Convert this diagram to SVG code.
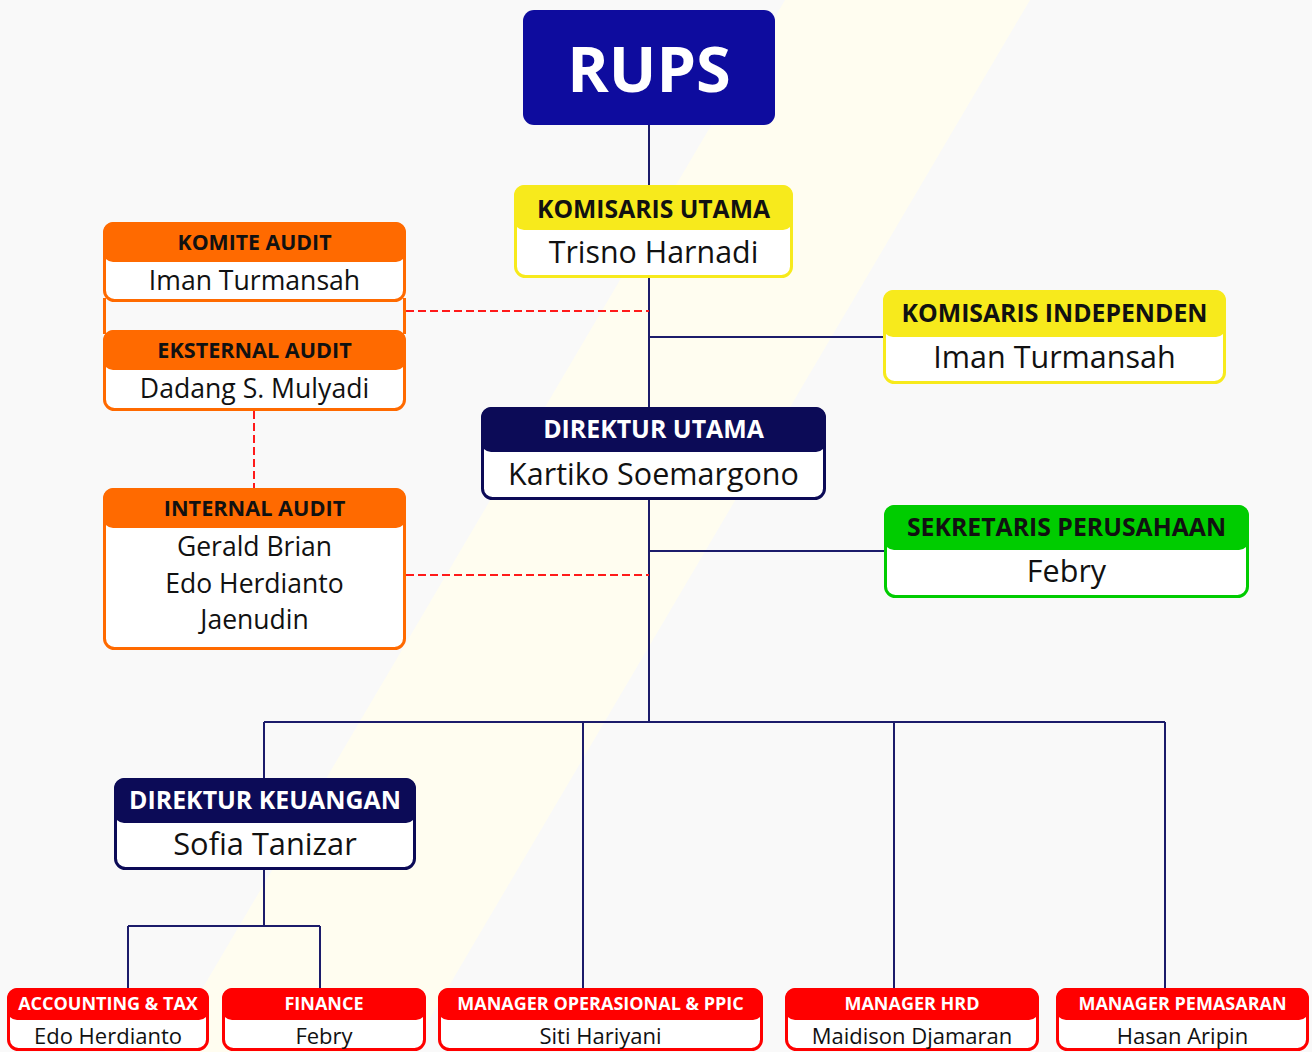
<svg xmlns="http://www.w3.org/2000/svg" width="1312" height="1052" viewBox="0 0 1312 1052">
<style>
.hd{font-family:"Open Sans","Liberation Sans",sans-serif;font-weight:700;text-anchor:middle}
.nm{font-family:"Open Sans","Liberation Sans",sans-serif;font-weight:400;text-anchor:middle;fill:#111}
.box{fill:#ffffff;stroke-width:3}
.ln{stroke:#1c1c6b;stroke-width:2;fill:none}
.dash{stroke:#ff1a1a;stroke-width:2;fill:none;stroke-dasharray:8 4}
.y{fill:#f7ea1c}.ys{stroke:#f7ea1c}
.o{fill:#ff6a00}.os{stroke:#ff6a00}
.n{fill:#0c0b57}.ns{stroke:#0c0b57}
.g{fill:#00cc00}.gs{stroke:#00cc00}
.r{fill:#ff0000}.rs{stroke:#ff0000}
</style>
<rect x="0" y="0" width="1312" height="1052" fill="#f9f9f9"/>
<polygon points="785,0 1030,0 410,1052 165,1052" fill="#fffdf0"/>
<g id="connectors">
<path class="ln" d="M649,125 V722 M649,337 H884 M649,551 H885 M264,722 H1165 M264,722 V778 M583,722 V988 M894,722 V988 M1165,722 V988 M264,870 V926 M128,926 H320 M128,926 V988 M320,926 V988"/>
<path class="dash" d="M406,311 H649 M406,575 H649 M254,411 V488"/>
</g>
<g id="rups">
<rect x="523" y="10" width="252" height="115" rx="11" fill="#0e0c9e"/>
<text x="649" y="92" class="hd" font-size="63" fill="#ffffff">RUPS</text>
</g>
<g id="komisaris-utama">
<rect class="box ys" x="515.5" y="186.5" width="276" height="90" rx="10"/>
<rect class="y" x="514" y="185" width="279" height="45" rx="10"/>
<text x="653.5" y="218" class="hd" font-size="24.7" fill="#111">KOMISARIS UTAMA</text>
<text x="653.5" y="263" class="nm" font-size="30.4">Trisno Harnadi</text>
</g>
<g id="komite-audit">
<path class="os" stroke-width="3" d="M104.5,298 V334 M404.5,298 V334"/>
<rect class="box os" x="104.5" y="223.5" width="300" height="77" rx="10"/>
<rect class="o" x="103" y="222" width="303" height="40" rx="10"/>
<text x="254.5" y="250" class="hd" font-size="21.3" fill="#111">KOMITE AUDIT</text>
<text x="254.5" y="290" class="nm" font-size="26.6">Iman Turmansah</text>
</g>
<g id="eksternal-audit">
<rect class="box os" x="104.5" y="331.5" width="300" height="78" rx="10"/>
<rect class="o" x="103" y="330" width="303" height="40" rx="10"/>
<text x="254.5" y="358" class="hd" font-size="21.6" fill="#111">EKSTERNAL AUDIT</text>
<text x="254.5" y="398" class="nm" font-size="26.6">Dadang S. Mulyadi</text>
</g>
<g id="internal-audit">
<rect class="box os" x="104.5" y="489.5" width="300" height="159" rx="10"/>
<rect class="o" x="103" y="488" width="303" height="40" rx="10"/>
<text x="254.5" y="516" class="hd" font-size="21.7" fill="#111">INTERNAL AUDIT</text>
<text x="254.5" y="556" class="nm" font-size="26.5">Gerald Brian</text>
<text x="254.5" y="593" class="nm" font-size="26.5">Edo Herdianto</text>
<text x="254.5" y="629" class="nm" font-size="26.5">Jaenudin</text>
</g>
<g id="komisaris-independen">
<rect class="box ys" x="884.5" y="291.5" width="340" height="91" rx="10"/>
<rect class="y" x="883" y="290" width="343" height="47" rx="10"/>
<text x="1054.5" y="322" class="hd" font-size="24.8" fill="#111">KOMISARIS INDEPENDEN</text>
<text x="1054.5" y="368" class="nm" font-size="30.5">Iman Turmansah</text>
</g>
<g id="direktur-utama">
<rect class="box ns" x="482.5" y="408.5" width="342" height="90" rx="10"/>
<rect class="n" x="481" y="407" width="345" height="45" rx="10"/>
<text x="653.5" y="438" class="hd" font-size="24.9" fill="#ffffff">DIREKTUR UTAMA</text>
<text x="653.5" y="485" class="nm" font-size="30.5">Kartiko Soemargono</text>
</g>
<g id="sekretaris-perusahaan">
<rect class="box gs" x="885.5" y="506.5" width="362" height="90" rx="10"/>
<rect class="g" x="884" y="505" width="365" height="45" rx="10"/>
<text x="1066.5" y="536" class="hd" font-size="24.8" fill="#111">SEKRETARIS PERUSAHAAN</text>
<text x="1066.5" y="582" class="nm" font-size="30.5">Febry</text>
</g>
<g id="direktur-keuangan">
<rect class="box ns" x="115.5" y="779.5" width="299" height="89" rx="10"/>
<rect class="n" x="114" y="778" width="302" height="45" rx="10"/>
<text x="265" y="809" class="hd" font-size="24.9" fill="#ffffff">DIREKTUR KEUANGAN</text>
<text x="265" y="855" class="nm" font-size="30.8">Sofia Tanizar</text>
</g>
<g id="accounting-tax">
<rect class="box rs" x="8.5" y="989.5" width="199" height="60" rx="10"/>
<rect class="r" x="7" y="988" width="202" height="32" rx="10"/>
<text x="108" y="1010" class="hd" font-size="18" fill="#ffffff">ACCOUNTING &amp; TAX</text>
<text x="108" y="1044" class="nm" font-size="22">Edo Herdianto</text>
</g>
<g id="finance">
<rect class="box rs" x="223.5" y="989.5" width="201" height="60" rx="10"/>
<rect class="r" x="222" y="988" width="204" height="32" rx="10"/>
<text x="324" y="1010" class="hd" font-size="18" fill="#ffffff">FINANCE</text>
<text x="324" y="1044" class="nm" font-size="22">Febry</text>
</g>
<g id="manager-operasional">
<rect class="box rs" x="439.5" y="989.5" width="322" height="60" rx="10"/>
<rect class="r" x="438" y="988" width="325" height="32" rx="10"/>
<text x="600.5" y="1010" class="hd" font-size="18" fill="#ffffff">MANAGER OPERASIONAL &amp; PPIC</text>
<text x="600.5" y="1044" class="nm" font-size="22">Siti Hariyani</text>
</g>
<g id="manager-hrd">
<rect class="box rs" x="786.5" y="989.5" width="251" height="60" rx="10"/>
<rect class="r" x="785" y="988" width="254" height="32" rx="10"/>
<text x="912" y="1010" class="hd" font-size="18" fill="#ffffff">MANAGER HRD</text>
<text x="912" y="1044" class="nm" font-size="22">Maidison Djamaran</text>
</g>
<g id="manager-pemasaran">
<rect class="box rs" x="1057.5" y="989.5" width="250" height="60" rx="10"/>
<rect class="r" x="1056" y="988" width="253" height="32" rx="10"/>
<text x="1182.5" y="1010" class="hd" font-size="18" fill="#ffffff">MANAGER PEMASARAN</text>
<text x="1182.5" y="1044" class="nm" font-size="22">Hasan Aripin</text>
</g>
</svg>
